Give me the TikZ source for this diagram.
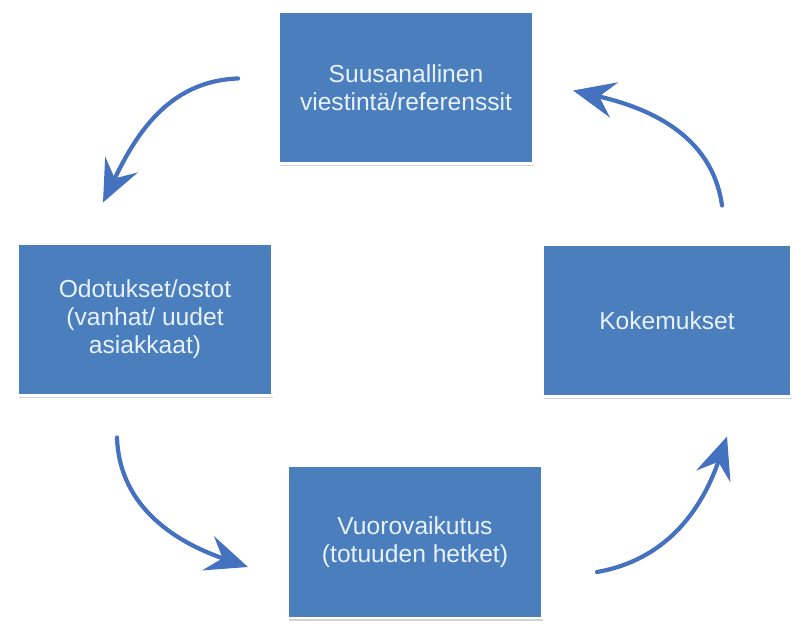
\documentclass[tikz,border=0pt]{standalone}
\usepackage{fontspec}
\setmainfont{Liberation Sans}
\usepackage{tikz}
\usetikzlibrary{calc,positioning,arrows.meta,shadows}

\definecolor{boxblue}{RGB}{74,126,188}
\definecolor{arrowblue}{RGB}{68,114,190}
\definecolor{textwhite}{RGB}{232,242,255}

\begin{document}
\begin{tikzpicture}[x=0.025cm, y=0.025cm,
	every node/.style={outer sep=0pt},
	phase/.style={fill=boxblue, draw=white, line width=1.5pt, align=center, text=textwhite,
		minimum width=6.35cm, minimum height=3.8cm,
		font=\fontsize{17.5}{20}\selectfont,
		drop shadow={shadow xshift=0.6pt, shadow yshift=-1.8pt, opacity=0.35}},
	flow/.style={draw=arrowblue, line width=3pt, line cap=round,
		-{Stealth[length=1.05cm, width=0.9cm, inset=0.38cm]}}]

    \useasboundingbox (0,0) rectangle (794,624);

    \node[phase] (wom) at (406,536.5) {Suusanallinen\\viestintä/referenssit};
    \node[phase] (expect) at (145,304.5) {Odotukset/ostot\\(vanhat/ uudet\\asiakkaat)};
    \node[phase, minimum width=6.2cm] (exper) at (667,303.5) {Kokemukset};
    \node[phase] (inter) at (415,82) {Vuorovaikutus\\(totuuden hetket)};

    % free ends of the curved arrows
    \coordinate (a1) at ($(wom.west)+(-41,9)$);
    \coordinate (b1) at ($(expect.north)+(-42,41)$);
    \coordinate (a2) at ($(expect.south)+(-28,-42)$);
    \coordinate (b2) at ($(inter.west)+(-40,-25)$);
    \coordinate (a3) at ($(inter.east)+(55,-30)$);
    \coordinate (b3) at ($(exper.south)+(60,-40)$);
    \coordinate (a4) at ($(exper.north)+(55,39)$);
    \coordinate (b4) at ($(wom.east)+(40,-3)$);

    \draw[flow] (a1) to[out=182, in=64] (b1);
    \draw[flow] (a2) to[out=-88, in=161] (b2);
    \draw[flow] (a3) to[out=10, in=-109] (b3);
    \draw[flow] (a4) to[out=98, in=-13] (b4);
\end{tikzpicture}
\end{document}
